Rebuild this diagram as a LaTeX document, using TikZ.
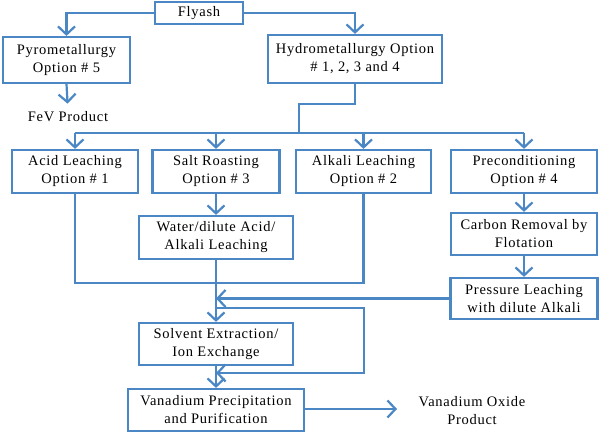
\documentclass[tikz,border=0pt]{standalone}
\usepackage{fontspec}
\setmainfont{Liberation Serif}[LetterSpace=5.0]
\usetikzlibrary{arrows.meta}
\definecolor{lb}{RGB}{74,135,196}
\begin{document}
\begin{tikzpicture}[x=1pt,y=-1pt,
  box/.style={draw=lb, line width=2.2pt, align=center, inner sep=0pt, font=\fontsize{14.5}{18}\selectfont},
  txt/.style={align=center, inner sep=0pt, font=\fontsize{14.5}{18}\selectfont},
  conn/.style={draw=lb, line width=2.2pt},
  arr/.style={conn, -{Straight Barb[length=8pt,width=17pt]}}]
\useasboundingbox (0,0) rectangle (600,433);
% nodes
\node[box, minimum width=88pt, minimum height=22pt] (fly) at (199,13) {Flyash};
\node[box, minimum width=127pt, minimum height=46pt] (pyro) at (66.5,60) {Pyrometallurgy\\Option \# 5};
\node[box, minimum width=174pt, minimum height=48pt] (hydro) at (355,59) {Hydrometallurgy Option\\\# 1, 2, 3 and 4};
\node[txt] (fev) at (68,117) {FeV Product};
\node[box, minimum width=126pt, minimum height=43pt] (acid) at (75,171.5) {Acid Leaching\\Option \# 1};
\node[box, minimum width=127pt, minimum height=43pt] (salt) at (216,171.5) {Salt Roasting\\Option \# 3};
\node[box, minimum width=135pt, minimum height=43pt] (alk) at (363.5,171.5) {Alkali Leaching\\Option \# 2};
\node[box, minimum width=146pt, minimum height=43pt] (pre) at (524,171.5) {Preconditioning\\Option \# 4};
\node[box, minimum width=154pt, minimum height=43pt] (water) at (216,237.5) {Water/dilute Acid/\\Alkali Leaching};
\node[box, minimum width=146pt, minimum height=42pt] (carbon) at (524,234) {Carbon Removal by\\Flotation};
\node[box, minimum width=147pt, minimum height=41pt] (press) at (524,298.5) {Pressure Leaching\\with dilute Alkali};
\node[box, minimum width=154pt, minimum height=42pt] (solv) at (216,344) {Solvent Extraction/\\Ion Exchange};
\node[box, minimum width=176pt, minimum height=42pt] (van) at (216,410) {Vanadium Precipitation\\and Purification};
\node[txt] (vox) at (472,411) {Vanadium Oxide\\Product};
% coordinates
\coordinate (hb) at (355,104);
\coordinate (hb2) at (299,104);
\coordinate (bus) at (299,133);
\coordinate (m) at (216,283);
\coordinate (l1) at (216,308);
\coordinate (l2) at (364,308);
\coordinate (l3) at (364,373);
\coordinate (l4) at (216,373);
\coordinate (ve) at (397,409);
% connectors
\draw[arr] (fly.west) -| (pyro.north);
\draw[arr] (fly.east) -| (hydro.north);
\draw[arr, shorten >=8pt] (pyro.south) -- (fev.north);
\draw[conn] (hydro.south) -- (hb) -- (hb2) -- (bus);
\draw[conn] (acid.north |- bus) -- (pre.north |- bus);
\draw[arr] (acid.north |- bus) -- (acid.north);
\draw[arr] (salt.north |- bus) -- (salt.north);
\draw[arr] (alk.north |- bus) -- (alk.north);
\draw[arr] (pre.north |- bus) -- (pre.north);
\draw[arr] (salt.south) -- (water.north);
\draw[arr] (pre.south) -- (carbon.north);
\draw[arr] (carbon.south) -- (press.north);
\draw[conn] (acid.south) |- (m);
\draw[conn] (alk.south) |- (m);
\draw[arr] (water.south) -- (solv.north);
\draw[arr] (press.west) -- (press.west -| solv.north);
\draw[arr] (l1) -- (l2) -- (l3) -- (l4);
\draw[arr] (solv.south) -- (van.north);
\draw[arr] (van.east |- ve) -- (ve);
\end{tikzpicture}
\end{document}
